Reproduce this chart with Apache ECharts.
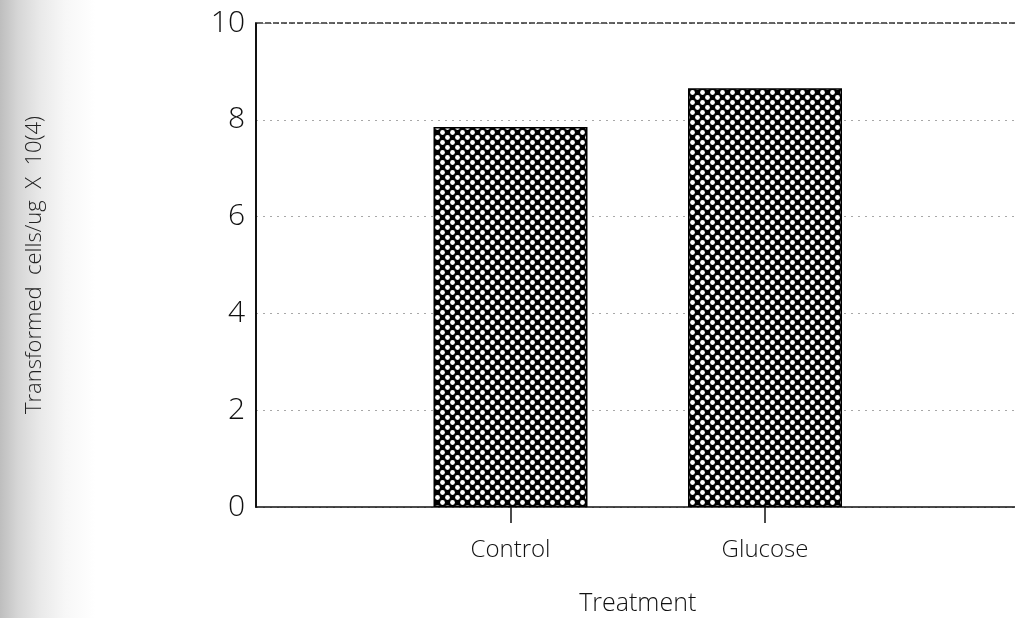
<!DOCTYPE html>
<html>
<head>
<meta charset="utf-8">
<script src="https://cdn.jsdelivr.net/npm/echarts@6/dist/echarts.min.js"></script>
<style>
  html, body { margin: 0; padding: 0; }
  body {
    width: 1015px; height: 618px;
    background: linear-gradient(to right, #bebebe 0px, #d6d6d6 18px, #e9e9e9 40px, #f7f7f7 65px, #ffffff 95px);
  }
  #chart { width: 1015px; height: 618px; }
</style>
</head>
<body>
<div id="chart"></div>
<script>
// Treatment groups and transformation efficiency (cells/ug x 10^4)
const categories = ['Control', 'Glucose'];
const values = [7.85, 8.65];
const yTicks = [0, 2, 4, 6, 8, 10];

const FONT = '"Open Sans", "DejaVu Sans", sans-serif';

// Black fill with a staggered grid of white dots
function dotPattern() {
  const c = document.createElement('canvas');
  c.width = 10; c.height = 10;
  const g = c.getContext('2d');
  g.fillStyle = '#000';
  g.fillRect(0, 0, 10, 10);
  g.fillStyle = '#fff';
  [[2.5, 2.5], [7.5, 7.5], [12.5, 12.5], [-2.5, -2.5]].forEach(([x, y]) => {
    g.beginPath(); g.arc(x, y, 2.4, 0, Math.PI * 2); g.fill();
  });
  return c;
}

// pad the category axis with empty slots at both ends
const xData = ['', ...categories, ''];
const seriesData = [null, ...values, null];

const chart = echarts.init(document.getElementById('chart'), null, { renderer: 'canvas' });
chart.setOption({
  backgroundColor: 'transparent',
  animation: false,
  grid: {
    left: 256, right: -4.5, top: 23, bottom: 111,
    containLabel: false,
    outerBoundsMode: 'none'
  },
  xAxis: {
    type: 'category',
    data: xData,
    boundaryGap: false,
    name: 'Treatment',
    nameLocation: 'middle',
    nameGap: 84,
    nameTextStyle: { fontFamily: FONT, fontWeight: 300, fontSize: 25, color: '#111' },
    axisLine: { lineStyle: { color: '#111', width: 1.5 } },
    axisTick: {
      show: true, length: 16, inside: false,
      interval: (i, v) => v !== '',
      lineStyle: { color: '#111', width: 1.5 }
    },
    axisLabel: {
      interval: (i, v) => v !== '',
      margin: 31,
      fontFamily: FONT, fontWeight: 300, fontSize: 24, color: '#111'
    },
    splitLine: { show: false }
  },
  yAxis: {
    type: 'value',
    min: yTicks[0],
    max: yTicks[yTicks.length - 1],
    interval: yTicks[1] - yTicks[0],
    name: 'Transformed  cells/ug  X  10(4)',
    nameLocation: 'middle',
    nameRotate: 90,
    nameGap: 210,
    nameTextStyle: { fontFamily: FONT, fontWeight: 300, fontSize: 22, color: '#222' },
    axisLine: { show: true, lineStyle: { color: '#111', width: 2 } },
    axisTick: { show: false },
    axisLabel: { margin: 11, fontFamily: FONT, fontWeight: 300, fontSize: 30, color: '#111' },
    splitLine: {
      show: true,
      lineStyle: { type: [2, 5], color: '#a8a8a8', width: 1 }
    }
  },
  series: [{
    type: 'bar',
    data: seriesData,
    barWidth: 154,
    itemStyle: {
      color: { image: dotPattern(), repeat: 'repeat' },
      borderColor: '#000',
      borderWidth: 1.5
    }
  }],
  graphic: [{
    // darker frame line along the top of the plot
    type: 'line',
    shape: { x1: 257, y1: 23, x2: 1015, y2: 23 },
    style: { stroke: '#333', lineWidth: 1.5, lineDash: [6, 2] },
    z: 10
  }]
});
</script>
</body>
</html>
